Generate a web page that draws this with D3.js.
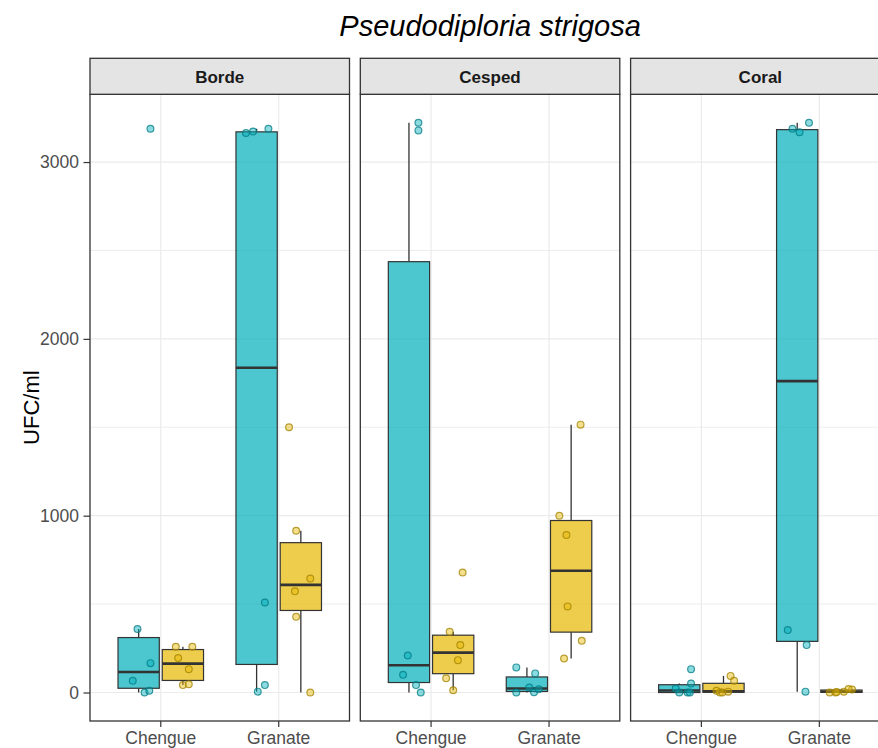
<!DOCTYPE html>
<html>
<head>
<meta charset="utf-8">
<script src="https://cdn.jsdelivr.net/npm/d3@7"></script>
<style>
  html, body { margin: 0; padding: 0; background: #ffffff; }
  svg { display: block; font-family: "Liberation Sans", Arial, sans-serif; }
</style>
</head>
<body>
<svg id="chart" width="878" height="748"></svg>
<script>
// ---- data -------------------------------------------------------------
const facets = ["Borde", "Cesped", "Coral"];
const sites = ["Chengue", "Granate"];
const groups = ["serie1", "serie2"];
const groupColors = ["#00AFBB", "#E7B800"];
const yTicks = [0, 1000, 2000, 3000];
const yMinor = [500, 1500, 2500];
const chartTitle = "Pseudodiploria strigosa";
const yTitle = "UFC/ml";

// UFC/ml samples, ordered facet by facet: [Chengue, Granate]
const serie1Values = [
  [3188, 359, 166, 66, 0, 10],        // Borde · Chengue
  [3164, 3173, 3188, 509, 5, 42],     // Borde · Granate
  [3222, 3179, 209, 100, 42, 0],      // Cesped · Chengue
  [142, 108, 28, 0, 2, 18],           // Cesped · Granate
  [132, 51, 23, 0, 0, 0],             // Coral · Chengue
  [3188, 3169, 3222, 353, 268, 5]     // Coral · Granate
];
const serie2Values = [
  [259, 259, 195, 132, 42, 47],       // Borde · Chengue
  [1500, 915, 645, 572, 428, 0],      // Borde · Granate
  [679, 343, 268, 183, 81, 13],       // Cesped · Chengue
  [1515, 1000, 891, 487, 293, 192],   // Cesped · Granate
  [94, 66, 0, 0, 5, 10],              // Coral · Chengue
  [0, 0, 3, 5, 17, 20]                // Coral · Granate
];
// horizontal jitter of each sample, in category units
const serie1Jitter = [
  [0.10, -0.01, 0.10, -0.05, 0.05, 0.09],
  [-0.09, -0.03, 0.10, 0.07, 0.01, 0.07],
  [0.08, 0.08, -0.01, -0.05, 0.06, 0.10],
  [-0.09, 0.07, 0.02, -0.09, 0.06, 0.10],
  [0.10, 0.10, -0.03, 0.00, 0.07, 0.09],
  [-0.04, 0.02, 0.10, -0.08, 0.08, 0.07]
];
const serie2Jitter = [
  [-0.06, 0.08, -0.04, 0.05, 0.00, 0.05],
  [-0.10, -0.04, 0.08, -0.05, -0.04, 0.08],
  [0.08, -0.03, 0.06, 0.04, -0.06, 0.00],
  [0.08, -0.10, -0.04, -0.03, 0.09, -0.06],
  [0.06, 0.09, -0.03, -0.01, 0.04, -0.06],
  [-0.10, -0.05, -0.04, 0.02, 0.09, 0.06]
];
const seriesValues = [serie1Values, serie2Values];
const seriesJitter = [serie1Jitter, serie2Jitter];

// ---- layout -----------------------------------------------------------
const svg = d3.select("#chart");
const panelLeft0 = 90, panelW = 259.5, panelGap = 10.8;
const stripTop = 58.3, panelTop = 94.3, panelBottom = 721;
const ink = "#333333";

const allValues = seriesValues.flat(2);
const yMax = d3.max(allValues), yMinV = d3.min(allValues);
const pad = (yMax - yMinV) * 0.05;
const y = d3.scaleLinear().domain([yMinV - pad, yMax + pad]).range([panelBottom, panelTop]);

const facetX = d3.scaleBand().domain(facets)
  .range([panelLeft0, panelLeft0 + 3 * panelW + 2 * panelGap])
  .paddingInner(panelGap / (panelW + panelGap)).paddingOuter(0);

function boxStats(vals) {
  const s = vals.slice().sort(d3.ascending);
  const q1 = d3.quantile(s, 0.25), med = d3.quantile(s, 0.5), q3 = d3.quantile(s, 0.75);
  const iqr = q3 - q1;
  const lo = d3.min(s.filter(v => v >= q1 - 1.5 * iqr));
  const hi = d3.max(s.filter(v => v <= q3 + 1.5 * iqr));
  return { q1, med, q3, lo, hi };
}

// ---- title ------------------------------------------------------------
svg.append("text")
  .attr("x", panelLeft0 + (3 * panelW + 2 * panelGap) / 2)
  .attr("y", 36)
  .attr("text-anchor", "middle")
  .attr("font-size", 29)
  .attr("font-style", "italic")
  .attr("fill", "#000")
  .text(chartTitle);

// ---- y axis title -----------------------------------------------------
svg.append("text")
  .attr("transform", `translate(39,${(panelTop + panelBottom) / 2}) rotate(-90)`)
  .attr("text-anchor", "middle")
  .attr("font-size", 22)
  .attr("fill", "#000")
  .text(yTitle);

// ---- y axis (left of first panel) --------------------------------------
const yAxis = d3.axisLeft(y).tickValues(yTicks).tickSize(6.5).tickPadding(4.5).tickFormat(d3.format("d"));
const yAxisG = svg.append("g").attr("transform", `translate(${panelLeft0},0)`).call(yAxis);
yAxisG.select(".domain").remove();
yAxisG.selectAll(".tick line").attr("stroke", ink).attr("stroke-width", 1.2);
yAxisG.selectAll(".tick text").attr("fill", "#4D4D4D").attr("font-size", 17.5)
  .attr("font-family", "Liberation Sans, Arial, sans-serif");

// ---- panels -----------------------------------------------------------
facets.forEach((facet, fi) => {
  const left = facetX(facet);
  const g = svg.append("g");

  const x = d3.scaleBand().domain(sites).range([left, left + panelW])
    .paddingInner(0).paddingOuter(0.1);
  const step = x.step();
  const dodge = d3.scaleBand().domain(groups).range([-0.375 * step, 0.375 * step]);
  const boxW = 0.35 * step;

  // grid
  g.selectAll(".minor").data(yMinor).join("line")
    .attr("x1", left).attr("x2", left + panelW)
    .attr("y1", d => y(d)).attr("y2", d => y(d))
    .attr("stroke", "#EBEBEB").attr("stroke-width", 0.9);
  g.selectAll(".major").data(yTicks).join("line")
    .attr("x1", left).attr("x2", left + panelW)
    .attr("y1", d => y(d)).attr("y2", d => y(d))
    .attr("stroke", "#EBEBEB").attr("stroke-width", 1.2);
  g.selectAll(".vgrid").data(sites).join("line")
    .attr("x1", d => x(d) + step / 2).attr("x2", d => x(d) + step / 2)
    .attr("y1", panelTop).attr("y2", panelBottom)
    .attr("stroke", "#EBEBEB").attr("stroke-width", 1.2);

  // boxes
  sites.forEach((site, si) => {
    groups.forEach((grp, gi) => {
      const vals = seriesValues[gi][fi * 2 + si];
      const cx = x(site) + step / 2 + dodge(grp) + dodge.bandwidth() / 2;
      const st = boxStats(vals);
      const bg = g.append("g");
      bg.append("line").attr("x1", cx).attr("x2", cx)
        .attr("y1", y(st.q3)).attr("y2", y(st.hi)).attr("stroke", ink).attr("stroke-width", 1.3);
      bg.append("line").attr("x1", cx).attr("x2", cx)
        .attr("y1", y(st.q1)).attr("y2", y(st.lo)).attr("stroke", ink).attr("stroke-width", 1.3);
      bg.append("rect")
        .attr("x", cx - boxW / 2).attr("width", boxW)
        .attr("y", y(st.q3)).attr("height", Math.max(0.5, y(st.q1) - y(st.q3)))
        .attr("fill", groupColors[gi]).attr("fill-opacity", 0.7)
        .attr("stroke", ink).attr("stroke-width", 1.2);
      bg.append("line").attr("x1", cx - boxW / 2).attr("x2", cx + boxW / 2)
        .attr("y1", y(st.med)).attr("y2", y(st.med)).attr("stroke", ink).attr("stroke-width", 2.6);
    });
  });

  // jittered samples
  sites.forEach((site, si) => {
    groups.forEach((grp, gi) => {
      const vals = seriesValues[gi][fi * 2 + si];
      const jit = seriesJitter[gi][fi * 2 + si];
      const cx = x(site) + step / 2 + dodge(grp) + dodge.bandwidth() / 2;
      const col = d3.color(groupColors[gi]);
      g.append("g").selectAll("circle").data(vals).join("circle")
        .attr("cx", (d, i) => cx + jit[i] * step)
        .attr("cy", d => y(d))
        .attr("r", 3.4)
        .attr("fill", groupColors[gi]).attr("fill-opacity", 0.45)
        .attr("stroke", col.darker(1).formatHex()).attr("stroke-opacity", 0.75)
        .attr("stroke-width", 1.2);
    });
  });

  // panel border
  g.append("rect").attr("x", left).attr("y", panelTop)
    .attr("width", panelW).attr("height", panelBottom - panelTop)
    .attr("fill", "none").attr("stroke", ink).attr("stroke-width", 1.3);

  // strip
  g.append("rect").attr("x", left).attr("y", stripTop)
    .attr("width", panelW).attr("height", panelTop - stripTop)
    .attr("fill", "#E4E4E4").attr("stroke", ink).attr("stroke-width", 1.3);
  g.append("text")
    .attr("x", left + panelW / 2).attr("y", (stripTop + panelTop) / 2 + 1)
    .attr("dy", "0.35em").attr("text-anchor", "middle")
    .attr("font-size", 17).attr("font-weight", "bold").attr("fill", "#1A1A1A")
    .text(facet);

  // x axis
  const xAxis = d3.axisBottom(x).tickSize(6).tickPadding(5);
  const xg = g.append("g").attr("transform", `translate(0,${panelBottom})`).call(xAxis);
  xg.select(".domain").remove();
  xg.selectAll(".tick line").attr("stroke", ink).attr("stroke-width", 1.2);
  xg.selectAll(".tick text").attr("fill", "#4D4D4D").attr("font-size", 17.5)
    .attr("font-family", "Liberation Sans, Arial, sans-serif");
});
</script>
</body>
</html>
